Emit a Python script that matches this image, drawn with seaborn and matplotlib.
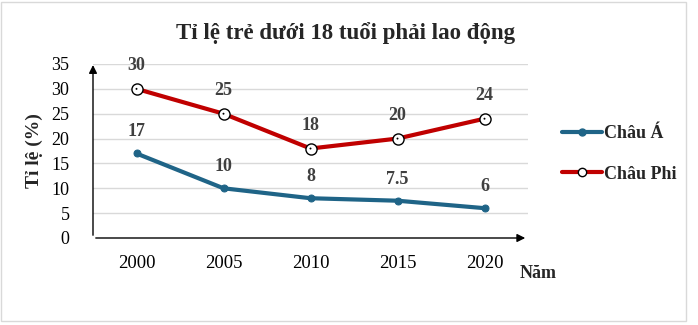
import matplotlib
matplotlib.use("Agg")
import matplotlib.pyplot as plt
import seaborn as sns
import pandas as pd
from matplotlib.lines import Line2D
from matplotlib.patches import Rectangle

years = ["2000", "2005", "2010", "2015", "2020"]
asia = [17, 10, 8, 7.5, 6]
africa = [30, 25, 18, 20, 24]
asia_labels = ["17", "10", "8", "7.5", "6"]
africa_labels = ["30", "25", "18", "20", "24"]
yticks = [0, 5, 10, 15, 20, 25, 30, 35]

sns.set_theme(style="white")
plt.rcParams['font.family'] = ['Liberation Serif', 'DejaVu Serif']

c_asia = "#1F6487"
c_afr = "#C00000"
txt = "#404040"

df = pd.DataFrame({"x": range(len(years)), "asia": asia, "africa": africa})

fig = plt.figure(figsize=(6.98, 3.25), dpi=100)
fig.patch.set_facecolor("white")
fig.patches.append(Rectangle((1/698, 4/325), 685/698, 319/325, transform=fig.transFigure,
                             fill=False, edgecolor="#D9D9D9", lw=1))
ax = fig.add_axes([93/698, 1-238/325, 435/698, 174/325])

for y in yticks[1:]:
    ax.axhline(y, color="#D9D9D9", lw=1, zorder=0)

sns.lineplot(data=df, x="x", y="asia", ax=ax, color=c_asia, lw=3, marker="o",
             markersize=5, markeredgecolor=c_asia, zorder=3)
sns.lineplot(data=df, x="x", y="africa", ax=ax, color=c_afr, lw=3, marker="o",
             markersize=8, markerfacecolor="white", markeredgecolor="black",
             markeredgewidth=1, zorder=3)
sns.scatterplot(data=df, x="x", y="africa", ax=ax, color="black", s=2, zorder=4,
                edgecolor="none")

for i in range(len(years)):
    ax.annotate(asia_labels[i], (i, asia[i]), xytext=(0, 15.5), textcoords="offset points",
                ha="center", va="center", fontsize=13, fontweight="bold", color=txt)
    ax.annotate(africa_labels[i], (i, africa[i]), xytext=(0, 16.5), textcoords="offset points",
                ha="center", va="center", fontsize=13, fontweight="bold", color=txt)

ax.set_xlim(-0.5, 4.5)
ax.set_ylim(0, 35)
ax.set_xticks(range(len(years)))
ax.set_xticklabels(years, fontsize=13.5, color="black")
ax.set_yticks(yticks)
ax.set_yticklabels([str(v) for v in yticks], fontsize=13, color="black")
ax.tick_params(axis="x", length=0, pad=12)
ax.tick_params(axis="y", length=0, pad=17)
for s in ["top", "right", "left", "bottom"]:
    ax.spines[s].set_visible(False)
ax.set_xlabel("")
ax.set_ylabel("Tỉ lệ (%)", fontsize=14, fontweight="bold", labelpad=6)

# axis arrows
ax.annotate("", xy=(0, 1.01), xytext=(0, 0), xycoords="axes fraction",
            arrowprops=dict(arrowstyle="-|>", color="black", lw=1, mutation_scale=12))
ax.annotate("", xy=(1.0, 0), xytext=(0, 0), xycoords="axes fraction",
            arrowprops=dict(arrowstyle="-|>", color="black", lw=1, mutation_scale=12))

fig.text(538/698, 1-274/325, "Năm", fontsize=13, fontweight="bold", ha="center", va="center")
fig.text(346/698, 1-33/325, "Tỉ lệ trẻ dưới 18 tuổi phải lao động", fontsize=16.5,
         fontweight="bold", ha="center", va="center")

handles = [Line2D([], [], color=c_asia, lw=3, marker="o", markersize=5, markeredgecolor=c_asia),
           Line2D([], [], color=c_afr, lw=3, marker="o", markersize=6, markerfacecolor="white",
                  markeredgecolor="black")]
leg = fig.legend(handles, ["Châu Á", "Châu Phi"], loc="center left",
                 bbox_to_anchor=(546/698, 1-154/325), frameon=False, handlelength=2.2,
                 handletextpad=0.1, labelspacing=1.3, prop={"size": 13, "weight": "bold"})

fig.savefig("out.png", dpi=100)
